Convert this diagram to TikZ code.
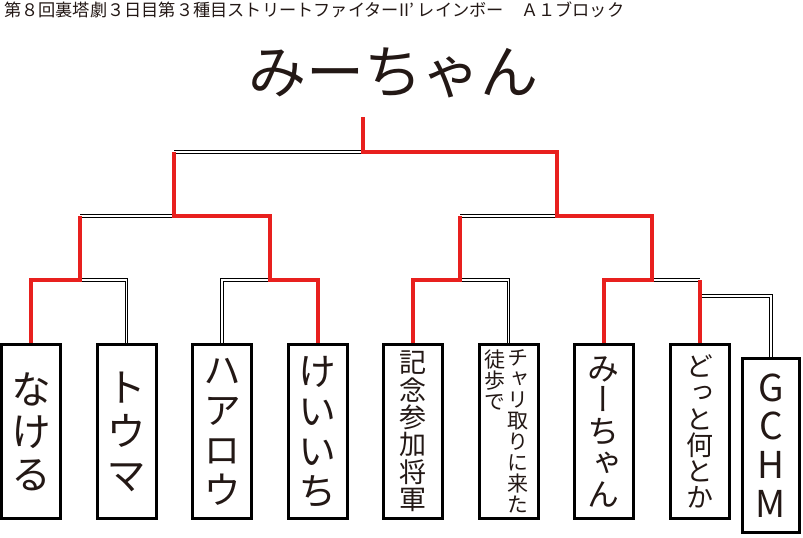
\documentclass[tikz,border=0pt]{standalone}
\usepackage{fontspec}
\setmainfont{Noto Sans CJK JP}
\newfontfamily\tatefont[RawFeature=+vert]{Noto Sans CJK JP}
\definecolor{winred}{HTML}{E8201E}
\definecolor{inkblack}{HTML}{231815}

\tikzset{
  entry/.style={draw=black, line width=3pt, minimum width=59pt, minimum height=174pt, inner sep=0pt, text=inkblack, align=center},
  tate/.style={font=\tatefont\fontsize{#1}{#1}\selectfont},
  win/.style={draw=winred, line width=4pt},
  lose/.style={draw=black, double=white, double distance=1.5pt, line width=0.8pt}
}

\begin{document}
\begin{tikzpicture}[x=1pt, y=-1pt]
 \useasboundingbox (0,0) rectangle (803,538);
 % header and champion
 \node[anchor=west, inner sep=0pt, text=inkblack, font=\fontsize{17.2}{17.2}\selectfont] (title) at (4,10)
   {第８回裏塔劇３日目第３種目ストリートファイターII’ レインボー　Ａ１ブロック};
 \node[inner sep=0pt, text=inkblack, font=\fontsize{58}{58}\selectfont] (champ) at (393,73) {みーちゃん};

 % entries
 \node[entry, font=\tatefont\fontsize{40}{42.5}\selectfont] (nakeru) at (31,431.5) {な\\け\\る};
 \node[entry, font=\tatefont\fontsize{40}{44}\selectfont] (touma) at (126.5,431.5) {ト\\ウ\\マ};
 \node[entry, font=\tatefont\fontsize{38}{40}\selectfont] (harou) at (222,431.5) {ハ\\ア\\ロ\\ウ};
 \node[entry, font=\tatefont\fontsize{38}{40}\selectfont] (keiichi) at (317.5,431.5) {け\\い\\い\\ち};
 \node[entry, font=\tatefont\fontsize{27}{27.4}\selectfont] (kinen) at (412.5,431.5) {記\\念\\参\\加\\将\\軍};
 \node[entry] (chari) at (508.5,431.5) {};
 \node[entry, font=\tatefont\fontsize{32}{31.5}\selectfont] (mii) at (603.5,431.5) {み\\ー\\ち\\ゃ\\ん};
 \node[entry, font=\tatefont\fontsize{27}{26.2}\selectfont] (dotto) at (699.5,431.5) {ど\\っ\\と\\何\\と\\か};
 \node[entry, minimum width=57pt, font=\fontsize{37}{38.7}\selectfont] (gchm) at (771,445.5) {G\\C\\H\\M};
 \node[anchor=north, inner sep=0pt, align=center, text=inkblack, tate=21] (chari1) at (518,349.5) {チ\\ャ\\リ\\取\\り\\に\\来\\た};
 \node[anchor=north, inner sep=0pt, align=center, text=inkblack, tate=21] (chari2) at (495,349.5) {徒\\歩\\で};

 % junctions
 \coordinate (j1) at (80,280);
 \coordinate (j2) at (270,280);
 \coordinate (j3) at (460,280);
 \coordinate (j4) at (652,280);
 \coordinate (j0) at (699.5,296);
 \coordinate (k1) at (174,216);
 \coordinate (k2) at (557,216);
 \coordinate (top) at (363,152);
 \coordinate (crown) at (363,117);

 % lost
 \draw[lose] (touma.north) |- (j1);
 \draw[lose] (harou.north) |- (j2);
 \draw[lose] (chari.north) |- (j3);
 \draw[lose] (j4) -- (dotto.north |- j4);
 \draw[lose] (gchm.north) |- (j0);
 \draw[lose] (j1 |- k1) -- (k1);
 \draw[lose] (j3 |- k2) -- (k2);
 \draw[lose] (k1 |- top) -- (top);

 % won
 \draw[win] (nakeru.north) |- (j1) -- (j1 |- k1);
 \draw[win] (keiichi.north) |- (j2) |- (k1) -- (k1 |- top);
 \draw[win] (kinen.north) |- (j3) -- (j3 |- k2);
 \draw[win] (mii.north) |- (j4) |- (k2) |- (top) -- (crown);
 \draw[win] (dotto.north) -- (dotto.north |- j4);
\end{tikzpicture}
\end{document}
